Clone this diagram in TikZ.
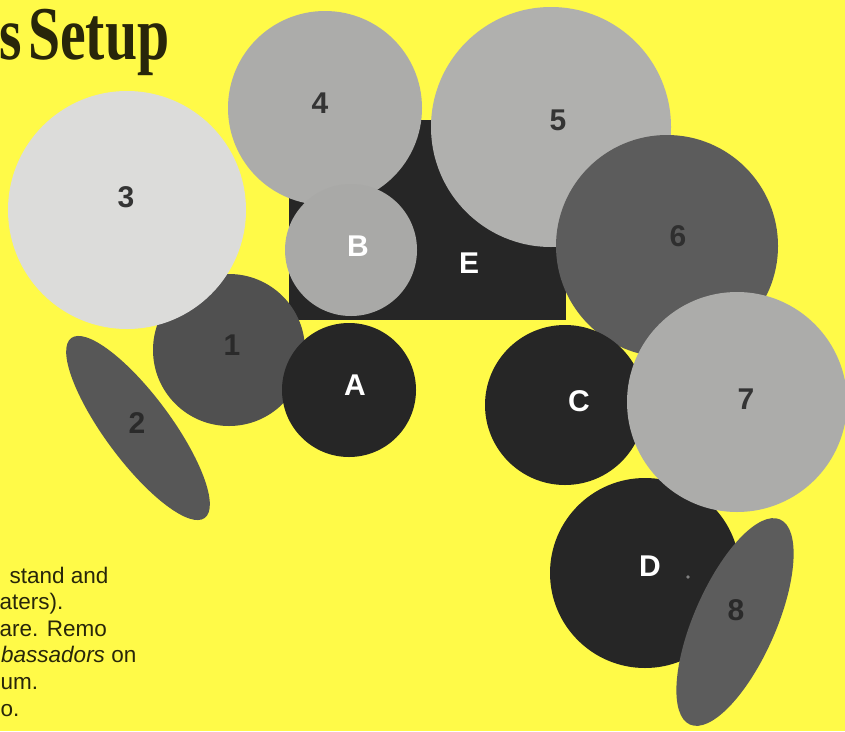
\documentclass[tikz,border=0pt]{standalone}
\usepackage{fontspec}
\usepackage{graphicx}
\setmainfont{Liberation Serif}
\setsansfont{Liberation Sans}
\definecolor{bg}{RGB}{255,250,72}
\definecolor{ink}{RGB}{40,38,10}
\definecolor{pale}{RGB}{220,220,218}
\definecolor{lgray}{RGB}{172,172,170}
\definecolor{mgray}{RGB}{92,92,92}
\definecolor{dgray}{RGB}{80,80,80}
\definecolor{nearblack}{RGB}{38,38,38}
\definecolor{numdark}{RGB}{52,52,52}
\begin{document}
\begin{tikzpicture}[x=1pt,y=-1pt,
  lbl/.style={font=\sffamily\bfseries\fontsize{30}{30}\selectfont, inner sep=0pt, text=numdark},
  wlbl/.style={lbl, text=white},
  note/.style={font=\sffamily\fontsize{22.5}{26.6}\selectfont, inner sep=0pt, anchor=base west, text=ink}]
\fill[bg] (0,0) rectangle (845,731);
\useasboundingbox (0,0) rectangle (845,731);
% title
\node[anchor=base east, inner sep=0pt, text=ink] (ts) at (22,59) {\scalebox{0.76}[1]{\fontsize{76}{76}\selectfont\bfseries s}};
\node[anchor=base west, inner sep=0pt, text=ink] (title) at (28,59) {\scalebox{0.76}[1]{\fontsize{76}{76}\selectfont\bfseries Setup}};
% E rectangle
\fill[nearblack] (289,120) rectangle (566,320);
% drums
\fill[lgray] (325,108) circle[radius=97pt];
\fill[lgray!98!black] (351,250) circle[radius=66pt];
\fill[lgray!95!white] (551,127) circle[radius=120pt];
\fill[mgray] (667,246) circle[radius=111pt];
\fill[nearblack] (565,405) circle[radius=80pt];
\fill[nearblack] (645,573) circle[radius=95pt];
\fill[gray] (688,577) circle[radius=1.8pt];
\fill[lgray] (737,402) circle[radius=110pt];
\fill[mgray, rotate around={66.3:(735,622)}] (735,622) ellipse[x radius=112pt, y radius=41pt];
\fill[dgray] (229,350) circle[radius=76pt];
\fill[nearblack] (349,390) circle[radius=67pt];
\fill[mgray!95!black, rotate around={-53.4:(138,428)}] (138,428) ellipse[x radius=112pt, y radius=33pt];
\fill[pale] (127,210) circle[radius=119pt];
% labels
\node[lbl] (l3) at (126,197) {3};
\node[lbl] (l4) at (320,103) {4};
\node[lbl] (l5) at (558,120) {5};
\node[wlbl] (lB) at (358,246) {B};
\node[wlbl] (lE) at (469,263) {E};
\node[lbl, text=numdark!90!black] (l6) at (678,236) {6};
\node[lbl, text=numdark!80!black] (l1) at (232,345) {1};
\node[wlbl] (lA) at (355,385) {A};
\node[wlbl] (lC) at (579,401) {C};
\node[lbl] (l7) at (746,399) {7};
\node[lbl, text=numdark!80!black] (l2) at (137,423) {2};
\node[wlbl] (lD) at (650,566) {D};
\node[lbl, text=numdark!80!black] (l8) at (736,610) {8};
% notes
\node[note] (n1) at (9.5,583) {stand and};
\node[note] (n2) at (-0.5,609.6) {aters).};
\node[note] (n3) at (-0.5,636.2) {are. Remo};
\node[note] (n4) at (1,662.8) {\textit{bassadors} on};
\node[note] (n5) at (0.5,689.4) {um.};
\node[note] (n6) at (0.5,716) {o.};
\end{tikzpicture}
\end{document}
